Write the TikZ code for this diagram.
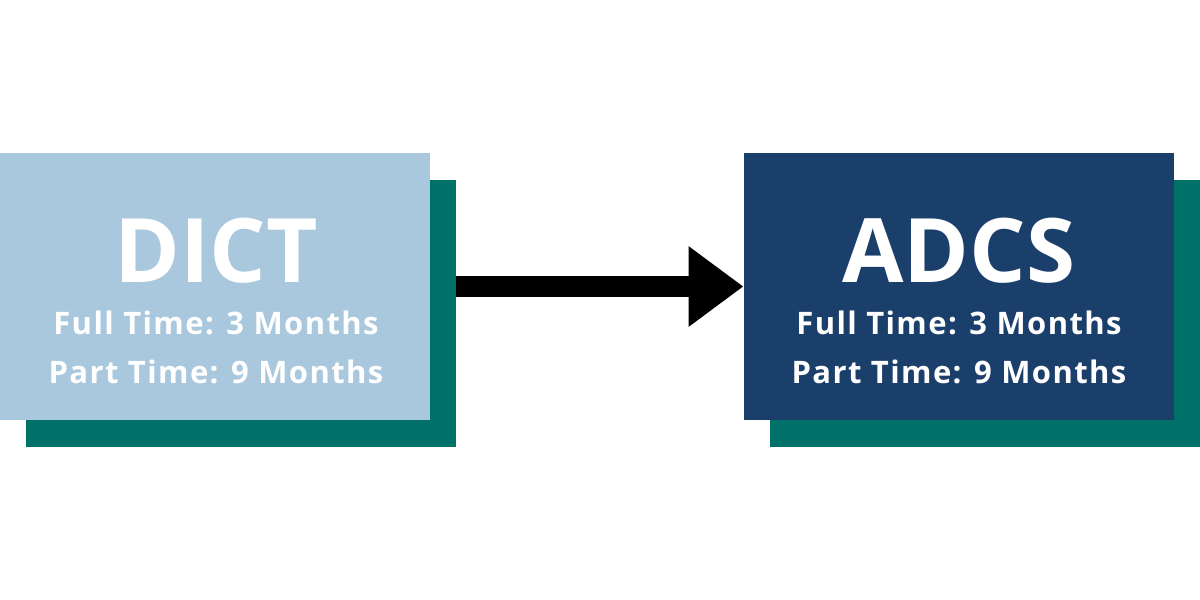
\documentclass[tikz,border=0pt]{standalone}
\usepackage{fontspec}
\setmainfont{Open Sans}
\newfontfamily\subfont{Open Sans}[LetterSpace=4.5]
\usetikzlibrary{arrows.meta}
\definecolor{lightblue}{HTML}{A9C8DD}
\definecolor{teal2}{HTML}{007168}
\definecolor{navy}{HTML}{1B3F6B}
\tikzset{
  panel/.style={inner sep=0pt, outer sep=0pt, minimum width=430pt, minimum height=267pt, draw=none},
  titletext/.style={text=white, anchor=base, inner sep=0pt, font=\bfseries\fontsize{89}{89}\selectfont},
  subtext/.style={text=white, anchor=base, inner sep=0pt, font=\subfont\bfseries\fontsize{31}{31}\selectfont},
}
\begin{document}
\begin{tikzpicture}[x=1pt,y=-1pt]
\useasboundingbox (0,0) rectangle (1200,600);
\fill[white] (0,0) rectangle (1200,600);
% left
\node[panel, fill=teal2] (dictshadow) at (241,313) {};
\node[panel, fill=lightblue] (dict) at (215,286.5) {};
\node[titletext] (dicttitle) at (216,282) {DICT};
\node[subtext] (dictft) at (216,334) {Full Time: 3 Months};
\node[subtext] (dictpt) at (216,383) {Part Time: 9 Months};
% right
\node[panel, fill=teal2] (adcsshadow) at (985,313.5) {};
\node[panel, fill=navy] (adcs) at (958.5,286.5) {};
\node[titletext] (adcstitle) at (959,282) {ADCS};
\node[subtext] (adcsft) at (959,334) {Full Time: 3 Months};
\node[subtext] (adcspt) at (959,383) {Part Time: 9 Months};
% arrow
\draw[line width=21pt, -{Triangle[length=55pt,width=77pt]}] (dictshadow.east |- 0,286.5) -- (adcs.west |- 0,286.5);
\end{tikzpicture}
\end{document}
